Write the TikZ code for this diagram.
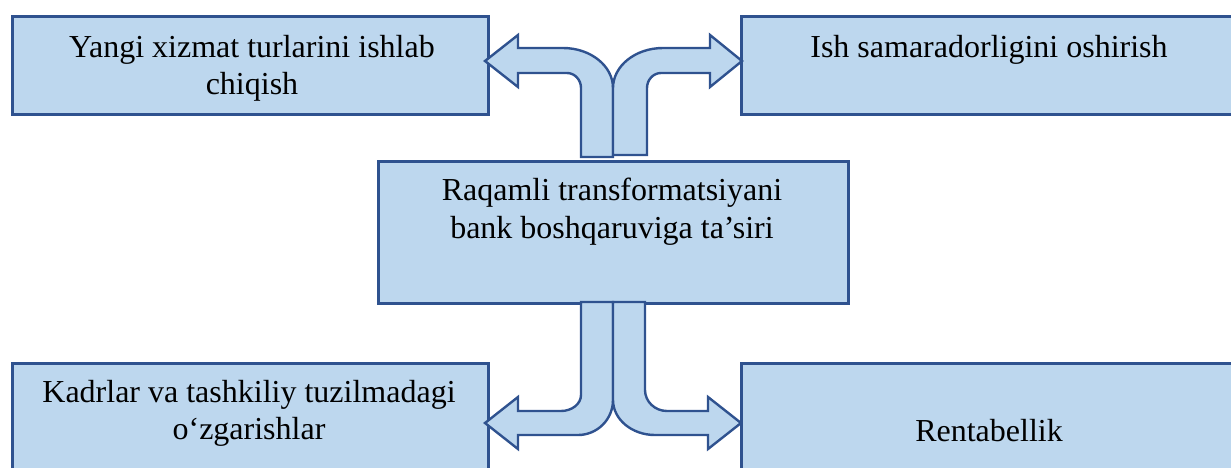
\documentclass[tikz,border=0pt]{standalone}
\usepackage{fontspec}
\setmainfont{Liberation Serif}
\definecolor{boxfill}{HTML}{BDD7EE}
\definecolor{boxline}{HTML}{2F528F}
\begin{document}
\begin{tikzpicture}[x=1pt,y=-1pt,
  box/.style={draw=boxline,fill=boxfill,line width=2.5pt,rectangle,inner sep=0pt,anchor=north west},
  bent/.style={draw=boxline,fill=boxfill,line width=2.4pt,line join=miter},
  txt/.style={font=\fontsize{32}{37.5}\selectfont,align=center,inner sep=0pt,anchor=base,text=black}]
\useasboundingbox (0,0) rectangle (1231,467);
\clip (0,0) rectangle (1231,467);

% outer boxes
\node[box,minimum width=476pt,minimum height=98pt] (tl) at (11,15) {};
\node[box,minimum width=500pt,minimum height=98pt] (tr) at (740,15) {};
\node[box,minimum width=476pt,minimum height=140pt] (bl) at (11,362) {};
\node[box,minimum width=500pt,minimum height=140pt] (br) at (740,362) {};
% central box
\node[box,minimum width=470pt,minimum height=142pt] (mid) at (377,160) {};

% bent arrows above the central box
\draw[bent] (581,157) -- (581,88) .. controls (581,79.7) and (574.7,73) .. (567,73)
  -- (518,73) -- (518,87) -- (485,61) -- (518,35) -- (518,48) -- (563,48)
  .. controls (590.6,48) and (613,65.9) .. (613,88) -- (613,157) -- cycle;
\draw[bent] (647,155) -- (647,88) .. controls (647,79.7) and (653.3,73) .. (661,73)
  -- (710,73) -- (710,87) -- (742,61) -- (710,35) -- (710,48) -- (663,48)
  .. controls (635.4,48) and (613,65.9) .. (613,88) -- (613,155) -- cycle;

% bent arrows below the central box
\draw[bent] (613,302) -- (613,400) .. controls (613,419.3) and (597.3,435) .. (578,435)
  -- (518,435) -- (518,449) -- (485,423) -- (518,397) -- (518,411) -- (561,411)
  .. controls (572,411) and (581,403.8) .. (581,395) -- (581,302) -- cycle;
\draw[bent] (613,302) -- (613,400) .. controls (613,419.3) and (631.8,435) .. (655,435)
  -- (708,435) -- (708,449) -- (741,423) -- (708,397) -- (708,411) -- (667,411)
  .. controls (654.9,411) and (645,401.6) .. (645,390) -- (645,302) -- cycle;

% texts (base anchor sits on the last line)
\node[txt] (tltext) at (252,94.5) {Yangi xizmat turlarini ishlab\\chiqish};
\node[txt] (trtext) at (989,57) {Ish samaradorligini oshirish};
\node[txt] (midtext) at (612,238) {Raqamli transformatsiyani\\bank boshqaruviga ta’siri};
\node[txt] (bltext) at (249,439.5) {Kadrlar va tashkiliy tuzilmadagi\\o‘zgarishlar};
\node[txt] (brtext) at (989,441) {Rentabellik};
\end{tikzpicture}
\end{document}
